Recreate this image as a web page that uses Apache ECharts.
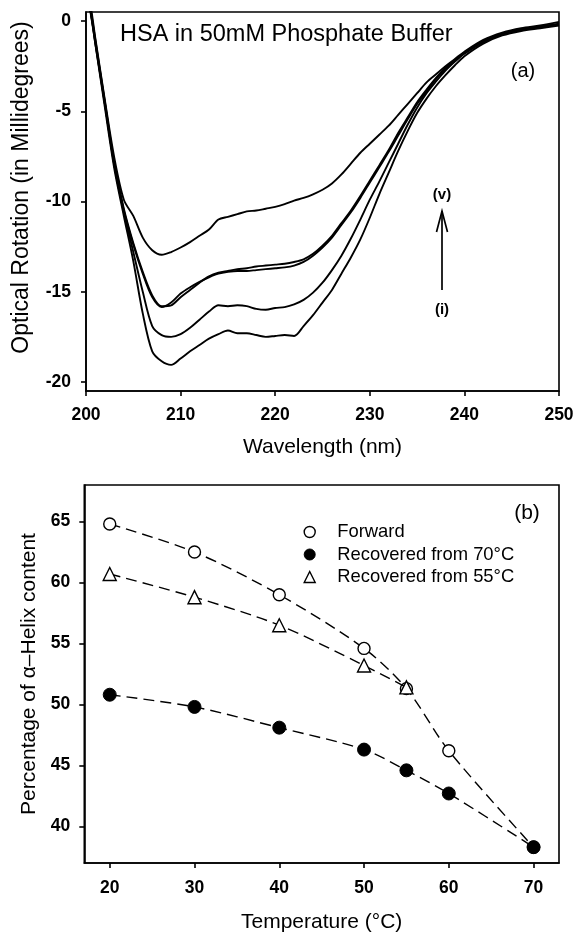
<!DOCTYPE html>
<html><head><meta charset="utf-8">
<script src="https://cdn.jsdelivr.net/npm/echarts@6/dist/echarts.min.js"></script>
<style>html,body{margin:0;padding:0;background:#fff}#c{width:577px;height:934px}</style>
</head><body><div id="c"></div>
<script>
// ---- Panel (a): CD spectra ----
const wavelength = [200, 200.5, 201, 202, 203, 204, 205, 206, 207, 208, 209, 210, 211, 212, 213, 214, 215, 216, 217, 218, 219, 220, 221, 222, 223, 224, 225, 226, 227, 228, 229, 230, 231, 232, 233, 234, 235, 236, 237, 238, 239, 240, 242, 244, 246, 248, 250];
const cd_i   = [1.8, 0.5, -1.3, -4.8, -8.2, -10.8, -13.3, -16.2, -18.3, -18.85, -19.05, -18.7, -18.3, -17.95, -17.6, -17.35, -17.15, -17.3, -17.3, -17.4, -17.5, -17.45, -17.4, -17.45, -16.9, -16.3, -15.6, -14.9, -14.0, -13.1, -12.1, -10.9, -9.6, -8.4, -7.2, -6.1, -5.1, -4.3, -3.6, -3.0, -2.45, -1.95, -1.25, -0.8, -0.55, -0.4, -0.25];
const cd_ii  = [1.8, 0.5, -1.2, -4.6, -8.0, -10.6, -12.8, -15.0, -16.9, -17.4, -17.5, -17.35, -17.0, -16.55, -16.1, -15.75, -15.8, -15.75, -15.8, -15.95, -16.0, -15.9, -15.85, -15.7, -15.45, -15.05, -14.5, -13.8, -13.0, -12.05, -11.0, -9.9, -8.9, -7.85, -6.8, -5.75, -4.8, -4.0, -3.35, -2.75, -2.25, -1.8, -1.15, -0.75, -0.5, -0.35, -0.2];
const cd_iii = [1.7, 0.4, -1.3, -4.6, -8.0, -10.5, -12.4, -14.0, -15.3, -15.85, -15.6, -15.1, -14.75, -14.45, -14.2, -14.0, -13.9, -13.85, -13.85, -13.8, -13.75, -13.7, -13.65, -13.55, -13.35, -13.0, -12.55, -12.0, -11.3, -10.6, -9.8, -8.95, -8.1, -7.25, -6.35, -5.45, -4.6, -3.9, -3.2, -2.65, -2.2, -1.8, -1.15, -0.75, -0.5, -0.35, -0.2];
const cd_iv  = [1.9, 0.6, -1.1, -4.5, -7.9, -10.4, -12.3, -13.9, -15.2, -15.8, -15.75, -15.3, -14.9, -14.5, -14.15, -13.95, -13.85, -13.75, -13.7, -13.6, -13.55, -13.5, -13.45, -13.35, -13.2, -12.9, -12.45, -11.9, -11.2, -10.5, -9.7, -8.85, -8.0, -7.15, -6.2, -5.35, -4.5, -3.8, -3.15, -2.6, -2.15, -1.75, -1.1, -0.7, -0.45, -0.3, -0.15];
const cd_v   = [2.0, 0.8, -1.0, -4.4, -7.6, -9.9, -10.8, -12.0, -12.7, -12.95, -12.8, -12.55, -12.25, -11.9, -11.55, -11.0, -10.85, -10.7, -10.55, -10.5, -10.4, -10.3, -10.15, -9.95, -9.8, -9.6, -9.35, -9.0, -8.5, -7.9, -7.3, -6.8, -6.3, -5.8, -5.2, -4.6, -4.0, -3.4, -2.95, -2.5, -2.1, -1.7, -1.05, -0.65, -0.4, -0.25, -0.05];
const topXTicks = [200, 210, 220, 230, 240, 250];
const topYTicks = [-20, -15, -10, -5, 0];

// ---- Panel (b): helix content ----
const temps = [20, 30, 40, 50, 55, 60, 70];
const forward = [64.8, 62.5, 59.0, 54.6, 51.3, 46.2, 38.3];
const rec70 = [50.8, 49.8, 48.1, 46.3, 44.6, 42.7, 38.3];
const temps55 = [20, 30, 40, 50, 55];
const rec55 = [60.7, 58.8, 56.5, 53.2, 51.4];
const botXTicks = [20, 30, 40, 50, 60, 70];
const botYTicks = [40, 45, 50, 55, 60, 65];

const FF = 'Liberation Sans, Arial, sans-serif';
const chart = echarts.init(document.getElementById('c'));
const pair = (xs, ys) => xs.map((x, i) => [x, ys[i]]);

const axisCommon = (extra) => Object.assign({
  type: 'value',
  axisLine: {show: true, onZero: false, lineStyle: {color: '#000', width: 1.6}},
  axisTick: {show: true, length: 5, lineStyle: {color: '#000', width: 1.6}},
  axisLabel: {fontSize: 17, fontWeight: 'bold', color: '#000', fontFamily: FF},
  splitLine: {show: false},
  nameLocation: 'middle',
  nameTextStyle: {fontSize: 21, color: '#000', fontFamily: FF}
}, extra);
const lbl = (margin, vals) => ({fontSize: 17.5, fontWeight: 'bold', color: '#000', fontFamily: FF, margin: margin, customValues: vals});
const tck = (vals) => ({show: true, length: 5, lineStyle: {color: '#000', width: 1.6}, customValues: vals});

const cdSeries = [cd_i, cd_ii, cd_iii, cd_iv, cd_v].map((d, k) => ({
  name: 'curve' + k, type: 'line', xAxisIndex: 0, yAxisIndex: 0,
  data: pair(wavelength, d), showSymbol: false, symbol: 'none', smooth: 0.3,
  lineStyle: {color: '#000', width: 1.9}, clip: true, silent: true
}));

const dashed = {color: '#000', width: 1.4, type: [11, 6]};

chart.setOption({
  animation: false,
  backgroundColor: '#fff',
  textStyle: {fontFamily: FF},
  grid: [
    {left: 86, top: 12, width: 473, height: 379, show: true, borderColor: '#000', borderWidth: 1.6, backgroundColor: 'rgba(0,0,0,0)'},
    {left: 84.3, top: 485, width: 474.7, height: 378.3, show: true, borderColor: '#000', borderWidth: 1.6, backgroundColor: 'rgba(0,0,0,0)'}
  ],
  xAxis: [
    axisCommon({gridIndex: 0, min: 200, max: 250, interval: 10, name: 'Wavelength (nm)', nameGap: 46,
      axisLabel: lbl(15, topXTicks), axisTick: tck(topXTicks)}),
    axisCommon({gridIndex: 1, min: 17, max: 73, name: 'Temperature (°C)', nameGap: 49,
      axisLabel: lbl(16, botXTicks), axisTick: tck(botXTicks)})
  ],
  yAxis: [
    axisCommon({gridIndex: 0, min: -20.5, max: 0.5, name: 'Optical Rotation (in Millidegrees)', nameGap: 53,
      nameTextStyle: {fontSize: 23, color: '#000', fontFamily: FF, padding: [0, 0, 0, 28]},
      axisLabel: lbl(15, topYTicks), axisTick: tck(topYTicks)}),
    axisCommon({gridIndex: 1, min: 37, max: 68, name: 'Percentage of α–Helix content', nameGap: 45,
      axisLabel: lbl(14, botYTicks), axisTick: tck(botYTicks)})
  ],
  legend: {
    orient: 'vertical', left: 298.5, top: 518, itemWidth: 11, itemHeight: 11, itemGap: 4.5,
    selectedMode: false,
    textStyle: {fontSize: 18.4, color: '#000', fontFamily: FF, padding: [0, 0, 0, 17]},
    data: [
      {name: 'Forward', icon: 'circle', itemStyle: {color: '#fff', borderColor: '#000', borderWidth: 1.4}},
      {name: 'Recovered from 70°C', icon: 'circle', itemStyle: {color: '#000', borderColor: '#000', borderWidth: 1}},
      {name: 'Recovered from 55°C', icon: 'triangle', itemStyle: {color: '#fff', borderColor: '#000', borderWidth: 1.4}}
    ]
  },
  series: cdSeries.concat([
    {name: 'Forward', type: 'line', xAxisIndex: 1, yAxisIndex: 1, data: pair(temps, forward), smooth: 0.3,
      symbol: 'circle', symbolSize: 12, itemStyle: {color: '#fff', borderColor: '#000', borderWidth: 1.4}, lineStyle: dashed, z: 3},
    {name: 'Recovered from 55°C', type: 'line', xAxisIndex: 1, yAxisIndex: 1, data: pair(temps55, rec55), smooth: 0.3,
      symbol: 'triangle', symbolSize: 13, itemStyle: {color: '#fff', borderColor: '#000', borderWidth: 1.4}, lineStyle: dashed, z: 4},
    {name: 'Recovered from 70°C', type: 'line', xAxisIndex: 1, yAxisIndex: 1, data: pair(temps, rec70), smooth: 0.3,
      symbol: 'circle', symbolSize: 13, itemStyle: {color: '#000', borderColor: '#000', borderWidth: 1}, lineStyle: dashed, z: 5}
  ]),
  graphic: [
    {type: 'text', left: 120, top: 23, style: {text: 'HSA in 50mM Phosphate Buffer', font: '23.5px ' + FF, fill: '#000'}},
    {type: 'text', x: 523, y: 71, style: {text: '(a)', font: '20px ' + FF, fill: '#000', align: 'center', verticalAlign: 'middle'}},
    {type: 'text', x: 442, y: 195, style: {text: '(v)', font: 'bold 15px ' + FF, fill: '#000', align: 'center', verticalAlign: 'middle'}},
    {type: 'text', x: 442, y: 310, style: {text: '(i)', font: 'bold 15px ' + FF, fill: '#000', align: 'center', verticalAlign: 'middle'}},
    {type: 'line', shape: {x1: 442, y1: 290, x2: 442, y2: 211}, style: {stroke: '#000', lineWidth: 1.7}},
    {type: 'polyline', shape: {points: [[436.5, 232], [442, 211], [447.5, 232]]}, style: {stroke: '#000', lineWidth: 1.7, fill: null}},
    {type: 'text', x: 527, y: 513, style: {text: '(b)', font: '21px ' + FF, fill: '#000', align: 'center', verticalAlign: 'middle'}}
  ]
});
</script>
</body></html>
